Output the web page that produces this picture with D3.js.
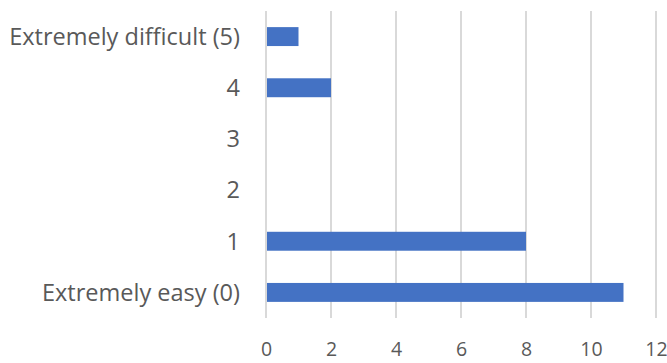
<!DOCTYPE html>
<html>
<head>
<meta charset="utf-8">
<script src="https://cdn.jsdelivr.net/npm/d3@7"></script>
<style>
  html, body { margin: 0; padding: 0; background: #fff; }
  svg text { font-family: "Open Sans", "Liberation Sans", sans-serif; fill: #595959; }
</style>
</head>
<body>
<div id="chart"></div>
<script>
// categories top to bottom, as in the picture
const categories = ["Extremely difficult (5)", "4", "3", "2", "1", "Extremely easy (0)"];
const counts = [1, 2, 0, 0, 8, 11];
const xTicks = [0, 2, 4, 6, 8, 10, 12];

const width = 667, height = 363;
const margin = { top: 11, right: 11, bottom: 45, left: 266 };

const svg = d3.select("#chart").append("svg")
    .attr("width", width)
    .attr("height", height);

const x = d3.scaleLinear([0, 12], [margin.left, width - margin.right]);
const y = d3.scaleBand(categories, [margin.top, height - margin.bottom])
    .paddingInner(0.63)
    .paddingOuter(0.315);

// gridlines
svg.append("g")
    .selectAll("line")
    .data(xTicks)
    .join("line")
    .attr("x1", d => x(d))
    .attr("x2", d => x(d))
    .attr("y1", margin.top)
    .attr("y2", height - margin.bottom)
    .attr("stroke", "#d9d9d9")
    .attr("stroke-width", 2);

// bars
svg.append("g")
    .attr("fill", "#4472c4")
    .selectAll("rect")
    .data(categories.map((c, i) => ({ cat: c, v: counts[i] })).filter(d => d.v > 0))
    .join("rect")
    .attr("x", x(0) + 1)
    .attr("y", d => y(d.cat))
    .attr("width", d => x(d.v) - x(0) - 1)
    .attr("height", y.bandwidth());

// y axis labels
const yAxis = svg.append("g")
    .attr("transform", `translate(${margin.left - 26},0)`)
    .call(d3.axisLeft(y).tickSize(0).tickPadding(0))
    .call(g => g.select(".domain").remove());
yAxis.selectAll("text")
    .attr("font-size", 19)
    .attr("font-family", null)
    .attr("dy", "0.35em");

// squeeze font so the longest label fits the width seen in the reference
const longest = yAxis.selectAll("text").filter(d => d === categories[0]).node();
const fs = 19 * 231 / longest.getComputedTextLength();
yAxis.selectAll("text").attr("font-size", fs);

// x axis labels
svg.append("g")
    .attr("transform", `translate(0,349)`)
    .call(d3.axisBottom(x).tickValues(xTicks).tickSize(0).tickPadding(0))
    .call(g => g.select(".domain").remove())
    .selectAll("text")
    .attr("font-size", 19.5)
    .attr("font-family", null)
    .attr("y", 0)
    .attr("dy", "0.36em");
</script>
</body>
</html>
